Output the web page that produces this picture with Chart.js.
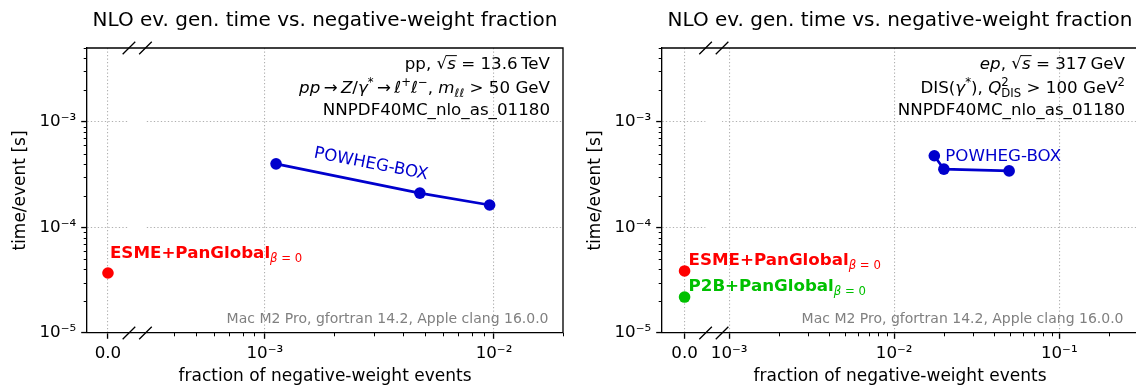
<!DOCTYPE html>
<html lang="en">
<head>
    <meta charset="UTF-8">
    <title>NLO ev. gen. time vs. negative-weight fraction</title>
    <script src="https://cdn.jsdelivr.net/npm/chart.js"></script>
    <style>
        body {
            margin: 0;
            background: #fff;
            overflow: hidden;
        }

        .wrap {
            position: relative;
            width: 1136px;
            height: 387px;
            overflow: hidden;
        }

        canvas {
            position: absolute;
            top: 0;
        }

        #ppChart { left: 0; }
        #epChart { left: 575px; }
    </style>
</head>
<body>
    <div class="wrap">
        <canvas id="ppChart" width="576" height="387"></canvas>
        <canvas id="epChart" width="576" height="387"></canvas>
    </div>

    <script>
        // values
        const ppPowhegFrac = [1.12e-3, 4.75e-3, 9.57e-3];
        const ppPowhegTime = [4.0e-4, 2.11e-4, 1.63e-4];
        const ppEsmeFrac = [0];
        const ppEsmeTime = [3.7e-5];

        const epPowhegFrac = [1.75e-2, 2.0e-2, 4.97e-2];
        const epPowhegTime = [4.77e-4, 3.56e-4, 3.43e-4];
        const epEsmeFrac = [0];
        const epEsmeTime = [3.87e-5];
        const epP2bFrac = [0];
        const epP2bTime = [2.19e-5];

        // axis ranges (log), where the "0.0" column sits and where the log part starts
        const yRange = [1e-5, 5e-3];
        const ppXRange = [1.677e-4, 2e-2];
        const ppZeroAt = 2.07e-4;
        const ppLogStart = 3.5e-4;
        const epXRange = [3.92e-4, 0.3];
        const epZeroAt = 5.37e-4;
        const epLogStart = 9.5e-4;

        const FAMILY = '"DejaVu Sans", sans-serif';
        const BLUE = '#0000cd';
        const RED = '#ff0000';
        const GREEN = '#00c000';
        const GRID = '#b0b0b0';

        Chart.defaults.font.family = FAMILY;
        Chart.defaults.color = '#000';

        // log axis that also has a column for x = 0 (drawn left of a break)
        class ZeroLogScale extends Chart.LogarithmicScale {
            static id = 'zerolog';
            static defaults = Chart.LogarithmicScale.defaults;

            parse(raw, index) {
                return raw === 0 ? 0 : super.parse(raw, index);
            }

            getPixelForValue(value) {
                return super.getPixelForValue(value === 0 ? this.options.zeroAt : value);
            }
        }
        Chart.register(ZeroLogScale);

        function isDecade(v) {
            if (!(v > 0)) return false;
            const l = Math.log10(v);
            return Math.abs(l - Math.round(l)) < 1e-6;
        }

        function logTicks(lo, hi) {
            const out = [];
            for (let e = Math.floor(Math.log10(lo)); e <= Math.ceil(Math.log10(hi)); e++) {
                for (let m = 1; m < 10; m++) {
                    const v = +(m * Math.pow(10, e)).toPrecision(6);
                    if (v >= lo * 0.9999 && v <= hi * 1.0001) out.push(v);
                }
            }
            return out;
        }

        const SUP = { '-': '\u207b', '0': '\u2070', '1': '\u00b9', '2': '\u00b2', '3': '\u00b3',
            '4': '\u2074', '5': '\u2075', '6': '\u2076', '7': '\u2077', '8': '\u2078', '9': '\u2079' };

        function tickLabel(v) {
            if (v === 0) return '0.0';
            if (!isDecade(v)) return '';
            return '10' + String(Math.round(Math.log10(v))).split('').map(c => SUP[c]).join('');
        }

        // text with italic / sub / sup pieces, like matplotlib mathtext
        function drawRich(ctx, segs, x, y, align, size, color) {
            const fontFor = s => (s.i ? 'italic ' : '') + (s.b ? 'bold ' : '') +
                ((s.sub || s.sup) ? size * 0.7 : size) + 'px ' + FAMILY;
            let total = 0;
            segs.forEach(s => {
                ctx.font = fontFor(s);
                s.w = ctx.measureText(s.t).width;
                if (!s.stay) total += s.w;
            });
            let cx = align === 'right' ? x - total : align === 'center' ? x - total / 2 : x;
            ctx.textAlign = 'left';
            ctx.fillStyle = color;
            ctx.strokeStyle = color;
            segs.forEach(s => {
                ctx.font = fontFor(s);
                const dy = s.sub ? size * 0.22 : s.sup ? -size * 0.4 : 0;
                ctx.fillText(s.t, cx, y + dy);
                if (s.bar) {
                    ctx.lineWidth = 1;
                    ctx.beginPath();
                    ctx.moveTo(cx - 1, y - size * 0.8);
                    ctx.lineTo(cx + s.w + 1, y - size * 0.8);
                    ctx.stroke();
                }
                if (!s.stay) cx += s.w;
            });
        }

        const panelDeco = {
            id: 'panelDeco',
            beforeDatasetsDraw(chart, args, o) {
                const { ctx, chartArea: a, scales: { x, y } } = chart;
                const z = x.getPixelForValue(0);
                ctx.save();
                // hide the grid inside the axis break
                ctx.fillStyle = '#fff';
                ctx.fillRect(z + o.gap[0], a.top + 1, o.gap[1] - o.gap[0], a.bottom - a.top - 2);
                // minor tick marks
                ctx.strokeStyle = '#000';
                ctx.lineWidth = 1;
                ctx.beginPath();
                x.ticks.forEach(t => {
                    if (t.value === 0 || isDecade(t.value)) return;
                    const p = Math.round(x.getPixelForValue(t.value)) + 0.5;
                    ctx.moveTo(p, a.bottom);
                    ctx.lineTo(p, a.bottom + 3.3);
                });
                y.ticks.forEach(t => {
                    if (isDecade(t.value)) return;
                    const p = Math.round(y.getPixelForValue(t.value)) + 0.5;
                    ctx.moveTo(a.left, p);
                    ctx.lineTo(a.left - 3.3, p);
                });
                ctx.stroke();
                ctx.restore();
            },
            afterDatasetsDraw(chart, args, o) {
                const { ctx, chartArea: a, scales: { x } } = chart;
                const z = x.getPixelForValue(0);
                ctx.save();
                // top and right spines
                ctx.strokeStyle = '#000';
                ctx.lineWidth = 1.33;
                ctx.beginPath();
                ctx.moveTo(a.left, a.top);
                ctx.lineTo(a.right, a.top);
                ctx.lineTo(a.right, a.bottom);
                ctx.stroke();
                // break marks
                ctx.lineWidth = 1.3;
                ctx.beginPath();
                o.gap.forEach(g => {
                    [a.top, a.bottom].forEach(yy => {
                        ctx.moveTo(z + g - 6.3, yy + 6.3);
                        ctx.lineTo(z + g + 6.3, yy - 6.3);
                    });
                });
                ctx.stroke();

                ctx.textBaseline = 'alphabetic';
                // process info, top right
                o.info.forEach((line, i) => {
                    drawRich(ctx, line, a.right - 13, a.top + o.infoY[i], 'right', 16.7, '#000');
                });
                // machine note, bottom right
                ctx.font = '14px ' + FAMILY;
                ctx.fillStyle = '#808080';
                ctx.textAlign = 'right';
                ctx.fillText(o.note, a.right - 14.5, a.bottom - 10);

                // series labels next to their points
                o.labels.forEach(l => {
                    const pts = chart.getDatasetMeta(l.ds).data;
                    if (l.along) {
                        const p0 = pts[0], p1 = pts[1], pe = pts[pts.length - 1];
                        const ang = Math.atan2(pe.y - p0.y, pe.x - p0.x);
                        const cx = p0.x + l.along * (p1.x - p0.x);
                        const cy = p0.y + l.along * (p1.y - p0.y) - l.lift;
                        ctx.save();
                        ctx.translate(cx, cy);
                        ctx.rotate(ang);
                        ctx.textBaseline = 'middle';
                        drawRich(ctx, l.segs, 0, 0, 'center', 16.7, l.color);
                        ctx.restore();
                    } else {
                        drawRich(ctx, l.segs, pts[0].x + l.dx, pts[0].y + l.dy, 'left', 16.7, l.color);
                    }
                });
                ctx.restore();
            }
        };
        Chart.register(panelDeco);

        function makePanel(id, p) {
            return new Chart(document.getElementById(id), {
                type: 'scatter',
                data: {
                    datasets: p.series.map(s => ({
                        label: s.name,
                        data: s.x.map((v, i) => ({ x: v, y: s.y[i] })),
                        showLine: s.x.length > 1,
                        borderColor: s.color,
                        backgroundColor: s.color,
                        borderWidth: 2.7,
                        pointRadius: 5.8,
                        pointBorderWidth: 0,
                        pointBackgroundColor: s.color
                    }))
                },
                options: {
                    responsive: false,
                    animation: false,
                    layout: { padding: { left: 0, right: 13, top: 0, bottom: 0 } },
                    plugins: {
                        legend: { display: false },
                        tooltip: { enabled: false },
                        title: {
                            display: true,
                            fullSize: false,
                            text: 'NLO ev. gen. time vs. negative-weight fraction',
                            font: { size: 20, weight: 'normal' },
                            color: '#000',
                            padding: { top: 9, bottom: 15 }
                        },
                        panelDeco: {
                            gap: [21, 37.5],
                            info: p.info,
                            infoY: [21, 45, 66.5],
                            note: 'Mac M2 Pro, gfortran 14.2, Apple clang 16.0.0',
                            labels: p.labels
                        }
                    },
                    scales: {
                        x: {
                            type: 'zerolog',
                            min: p.xRange[0],
                            max: p.xRange[1],
                            zeroAt: p.zeroAt,
                            afterBuildTicks: s => {
                                s.ticks = [{ value: 0 }].concat(logTicks(p.logStart, p.xRange[1]).map(v => ({ value: v })));
                            },
                            afterFit: s => { s.height = 54; },
                            ticks: {
                                autoSkip: false,
                                maxRotation: 0,
                                padding: 5,
                                font: { size: 16.7 },
                                color: '#000',
                                callback: v => tickLabel(v)
                            },
                            grid: {
                                color: c => (c.tick && (c.tick.value === 0 || isDecade(c.tick.value))) ? GRID : 'transparent',
                                tickColor: c => (c.tick && (c.tick.value === 0 || isDecade(c.tick.value))) ? '#000' : 'transparent',
                                lineWidth: 1.1,
                                tickWidth: 1.33,
                                tickLength: 5.8
                            },
                            border: { color: '#000', width: 1.33, dash: [1.3, 2.2] },
                            title: {
                                display: true,
                                text: 'fraction of negative-weight events',
                                font: { size: 17 },
                                color: '#000',
                                padding: { top: 0, bottom: 0 }
                            }
                        },
                        y: {
                            type: 'logarithmic',
                            min: yRange[0],
                            max: yRange[1],
                            afterBuildTicks: s => {
                                s.ticks = logTicks(yRange[0], yRange[1]).map(v => ({ value: v }));
                            },
                            afterFit: s => { s.width = 87; },
                            ticks: {
                                autoSkip: false,
                                padding: 5,
                                font: { size: 16.7 },
                                color: '#000',
                                callback: v => tickLabel(v)
                            },
                            grid: {
                                color: c => (c.tick && isDecade(c.tick.value)) ? GRID : 'transparent',
                                tickColor: c => (c.tick && isDecade(c.tick.value)) ? '#000' : 'transparent',
                                lineWidth: 1.1,
                                tickWidth: 1.33,
                                tickLength: 5.8
                            },
                            border: { color: '#000', width: 1.33, dash: [1.3, 2.2] },
                            title: {
                                display: true,
                                text: 'time/event [s]',
                                font: { size: 17 },
                                color: '#000',
                                padding: { top: 10, bottom: 0 }
                            }
                        }
                    }
                }
            });
        }

        const betaSub = [{ t: '\u03b2', i: 1, sub: 1 }, { t: ' = 0', sub: 1 }];
        const ARROW = '\u2009\u2192\u2009';

        makePanel('ppChart', {
            xRange: ppXRange,
            zeroAt: ppZeroAt,
            logStart: ppLogStart,
            series: [
                { name: 'POWHEG-BOX', x: ppPowhegFrac, y: ppPowhegTime, color: BLUE },
                { name: 'ESME+PanGlobal', x: ppEsmeFrac, y: ppEsmeTime, color: RED }
            ],
            info: [
                [{ t: 'pp, ' }, { t: '\u221a' }, { t: 's', i: 1, bar: 1 }, { t: ' = 13.6\u2009TeV' }],
                [{ t: 'pp', i: 1 }, { t: ARROW }, { t: 'Z', i: 1 }, { t: '/' }, { t: '\u03b3', i: 1 }, { t: '*', sup: 1 },
                 { t: ARROW }, { t: '\u2113', i: 1 }, { t: '+', sup: 1 }, { t: '\u2113', i: 1 }, { t: '\u2212', sup: 1 },
                 { t: ', ' }, { t: 'm', i: 1 }, { t: '\u2113\u2113', i: 1, sub: 1 }, { t: ' > 50 GeV' }],
                [{ t: 'NNPDF40MC_nlo_as_01180' }]
            ],
            labels: [
                { ds: 0, segs: [{ t: 'POWHEG-BOX' }], color: BLUE, along: 0.66, lift: 19 },
                { ds: 1, segs: [{ t: 'ESME+PanGlobal', b: 1 }].concat(betaSub), color: RED, dx: 2, dy: -15 }
            ]
        });

        makePanel('epChart', {
            xRange: epXRange,
            zeroAt: epZeroAt,
            logStart: epLogStart,
            series: [
                { name: 'POWHEG-BOX', x: epPowhegFrac, y: epPowhegTime, color: BLUE },
                { name: 'ESME+PanGlobal', x: epEsmeFrac, y: epEsmeTime, color: RED },
                { name: 'P2B+PanGlobal', x: epP2bFrac, y: epP2bTime, color: GREEN }
            ],
            info: [
                [{ t: 'ep', i: 1 }, { t: ', ' }, { t: '\u221a' }, { t: 's', i: 1, bar: 1 }, { t: ' = 317\u2009GeV' }],
                [{ t: 'DIS(' }, { t: '\u03b3', i: 1 }, { t: '*', sup: 1 }, { t: '), ' }, { t: 'Q', i: 1 },
                 { t: '2', sup: 1, stay: 1 }, { t: 'DIS', sub: 1 }, { t: ' > 100 GeV' }, { t: '2', sup: 1 }],
                [{ t: 'NNPDF40MC_nlo_as_01180' }]
            ],
            labels: [
                { ds: 0, segs: [{ t: 'POWHEG-BOX' }], color: BLUE, dx: 11, dy: 5 },
                { ds: 1, segs: [{ t: 'ESME+PanGlobal', b: 1 }].concat(betaSub), color: RED, dx: 4, dy: -6 },
                { ds: 2, segs: [{ t: 'P2B+PanGlobal', b: 1 }].concat(betaSub), color: GREEN, dx: 4, dy: -6 }
            ]
        });
    </script>
</body>
</html>
